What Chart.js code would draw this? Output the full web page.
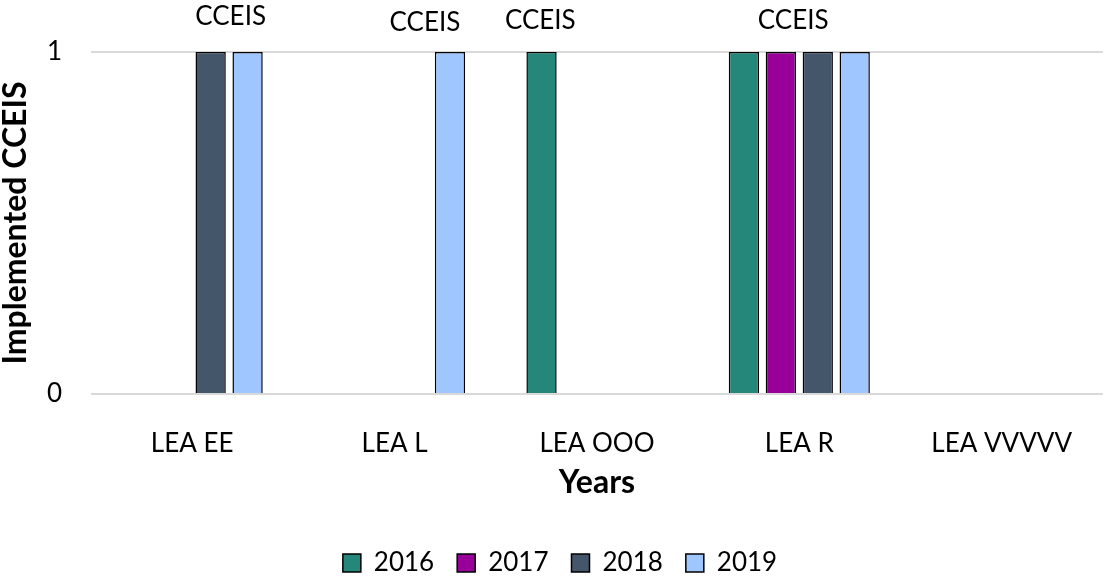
<!DOCTYPE html>
<html>
<head>
<meta charset="utf-8">
<script src="https://cdn.jsdelivr.net/npm/chart.js@4/dist/chart.umd.min.js"></script>
<style>
  html, body { margin: 0; padding: 0; background: #fff; }
</style>
</head>
<body>
<canvas id="grafica" width="1106" height="577"></canvas>
<script>
// Datos
const categorias = ["LEA EE", "LEA L", "LEA OOO", "LEA R", "LEA VVVVV"];
const anios = ["2016", "2017", "2018", "2019"];
const v2016 = [0, 0, 1, 1, 0];
const v2017 = [0, 0, 0, 1, 0];
const v2018 = [1, 0, 0, 1, 0];
const v2019 = [1, 1, 0, 1, 0];
const etiquetas = ["CCEIS", "CCEIS", "CCEIS", "CCEIS", ""];
const ticksY = [0, 1];

const colores = ["#24877A", "#990099", "#44566A", "#A0C6FF"];
const series = [v2016, v2017, v2018, v2019];

Chart.defaults.font.family = "Lato, 'Open Sans', sans-serif";
Chart.defaults.color = "#000";

// Textos "CCEIS" encima de las categorías
const etiquetasPlugin = {
  id: "etiquetasCceis",
  afterDatasetsDraw(chart, args, opts) {
    const { ctx } = chart;
    const x = chart.scales.x;
    const ancho = x.width / categorias.length;
    ctx.save();
    ctx.font = "26px Lato, sans-serif";
    ctx.fillStyle = "#000";
    ctx.textAlign = "center";
    ctx.textBaseline = "middle";
    etiquetas.forEach((t, i) => {
      if (!t) return;
      ctx.fillText(t, x.getPixelForValue(i) + opts.desplazamiento[i] * ancho, opts.y[i]);
    });
    ctx.restore();
  }
};

new Chart(document.getElementById("grafica"), {
  type: "bar",
  data: {
    labels: categorias,
    datasets: anios.map((a, i) => ({
      label: a,
      data: series[i],
      backgroundColor: colores[i],
      borderColor: "#000",
      borderWidth: 1.5,
      categoryPercentage: 0.73,
      barPercentage: 0.82
    }))
  },
  options: {
    responsive: false,
    animation: false,
    layout: { padding: { top: 52, right: 0, bottom: -9, left: 14 } },
    plugins: {
      tooltip: { enabled: false },
      legend: {
        position: "bottom",
        labels: {
          font: { size: 26 },
          boxWidth: 18,
          boxHeight: 18,
          padding: 23
        }
      },
      etiquetasCceis: {
        desplazamiento: [0.19, 0.15, -0.28, -0.03, 0],
        y: [17, 23, 21, 21, 0]
      }
    },
    scales: {
      x: {
        grid: { display: false, drawTicks: false },
        border: { display: false },
        ticks: { font: { size: 26 }, padding: 34 },
        title: {
          display: true,
          text: "Years",
          font: { size: 32, weight: "bold" },
          padding: { top: 0, bottom: 25 }
        },
        afterFit(scale) { scale.height = 133; }
      },
      y: {
        min: 0,
        max: 1,
        afterBuildTicks(scale) { scale.ticks = ticksY.map(v => ({ value: v })); },
        grid: { color: "#d9d9d9", lineWidth: 2, drawTicks: false },
        border: { display: false },
        ticks: { font: { size: 26 }, padding: 29 },
        title: {
          display: true,
          text: "Implemented CCEIS",
          font: { size: 32, weight: "bold" },
          padding: { top: -18, bottom: 0 }
        },
        afterFit(scale) { scale.width = 77; }
      }
    }
  },
  plugins: [etiquetasPlugin]
});
</script>
</body>
</html>
